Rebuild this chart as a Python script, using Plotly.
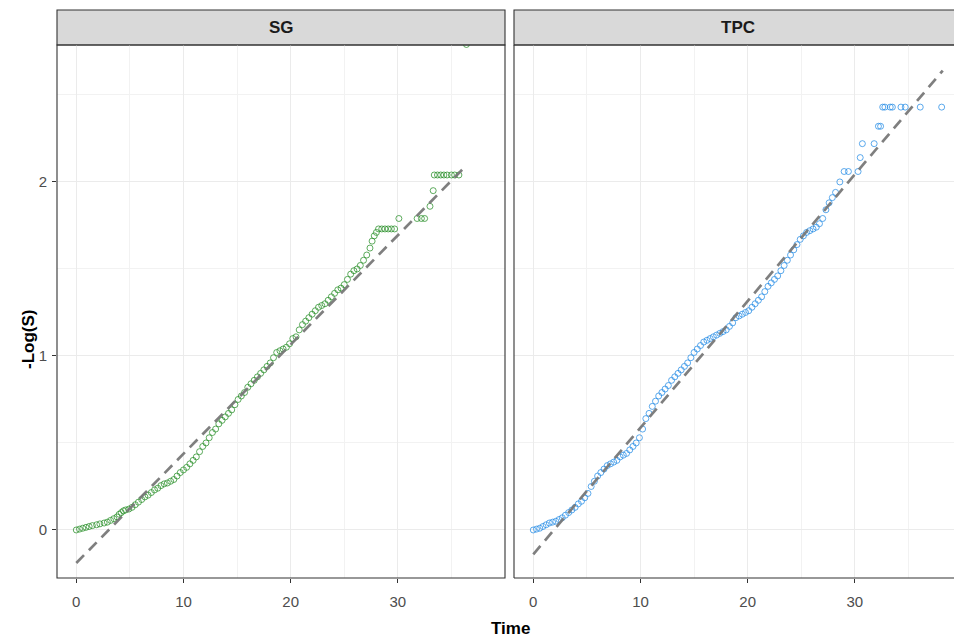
import plotly.graph_objects as go

# ---------------- data ----------------
panels = ["SG", "TPC"]

sg_time = [0.0, 0.3, 0.6, 0.9, 1.2, 1.5, 1.9, 2.2, 2.6, 2.9, 3.2, 3.5, 3.8, 4.0, 4.2, 4.4, 4.6, 4.9,
           5.2, 5.5, 5.8, 6.1, 6.4, 6.7, 7.0, 7.3, 7.6, 7.9, 8.2, 8.5, 8.8, 9.1, 9.4, 9.7, 10.0,
           10.3, 10.6, 10.9, 11.2, 11.5, 11.8, 12.1, 12.4, 12.7, 13.0, 13.3, 13.6, 13.9, 14.2,
           14.5, 14.8, 15.1, 15.4, 15.7, 16.0, 16.3, 16.6, 16.9, 17.2, 17.5, 17.8, 18.1, 18.4,
           18.7, 19.0, 19.3, 19.6, 19.9, 20.2, 20.5, 20.8, 21.1, 21.4, 21.7, 22.0, 22.3, 22.6,
           22.9, 23.2, 23.5, 23.8, 24.1, 24.4, 24.7, 25.0, 25.3, 25.6, 25.9, 26.2, 26.5, 26.8,
           27.1, 27.4, 27.6, 27.8, 28.0, 28.2, 28.5, 28.8, 29.1, 29.4, 29.7, 30.1, 31.8, 32.2,
           32.5, 33.0, 33.3, 33.4, 33.7, 34.0, 34.3, 34.6, 35.0, 35.3, 35.7, 36.4]
sg_logs = [0.000, 0.005, 0.010, 0.015, 0.020, 0.025, 0.030, 0.035, 0.040, 0.045, 0.055, 0.065,
           0.075, 0.090, 0.100, 0.110, 0.115, 0.120, 0.130, 0.145, 0.160, 0.175, 0.190, 0.200,
           0.215, 0.230, 0.240, 0.255, 0.265, 0.270, 0.280, 0.290, 0.310, 0.330, 0.345, 0.360,
           0.380, 0.400, 0.420, 0.450, 0.480, 0.500, 0.530, 0.560, 0.580, 0.610, 0.630, 0.650,
           0.670, 0.690, 0.720, 0.750, 0.770, 0.790, 0.820, 0.840, 0.860, 0.880, 0.900, 0.920,
           0.940, 0.960, 0.990, 1.020, 1.030, 1.040, 1.050, 1.070, 1.100, 1.110, 1.150, 1.180,
           1.200, 1.220, 1.240, 1.260, 1.280, 1.290, 1.300, 1.320, 1.340, 1.360, 1.380, 1.390,
           1.410, 1.440, 1.470, 1.490, 1.500, 1.520, 1.550, 1.580, 1.620, 1.660, 1.690, 1.710,
           1.730, 1.730, 1.730, 1.730, 1.730, 1.730, 1.790, 1.790, 1.790, 1.790, 1.860, 1.950,
           2.040, 2.040, 2.040, 2.040, 2.040, 2.040, 2.040, 2.040, 2.790]

tpc_time = [0.0, 0.3, 0.6, 0.9, 1.2, 1.5, 1.8, 2.1, 2.4, 2.7, 3.0, 3.3, 3.6, 3.9, 4.2, 4.5, 4.8,
            5.1, 5.4, 5.7, 6.0, 6.3, 6.6, 6.9, 7.2, 7.5, 7.8, 8.1, 8.4, 8.7, 9.0, 9.3, 9.6, 9.9,
            10.2, 10.5, 10.8, 11.1, 11.4, 11.7, 12.0, 12.3, 12.6, 12.9, 13.2, 13.5, 13.8, 14.1,
            14.4, 14.7, 15.0, 15.3, 15.6, 15.9, 16.2, 16.5, 16.8, 17.1, 17.4, 17.7, 18.0, 18.3,
            18.6, 18.9, 19.2, 19.5, 19.8, 20.1, 20.4, 20.7, 21.0, 21.3, 21.6, 21.9, 22.2, 22.5,
            22.8, 23.1, 23.4, 23.7, 24.0, 24.3, 24.6, 24.9, 25.2, 25.5, 25.8, 26.1, 26.4, 26.7,
            27.0, 27.3, 27.6, 27.9, 28.2, 28.6, 29.0, 29.4, 30.3, 30.5, 30.7, 31.8, 32.2, 32.4,
            32.6, 32.8, 33.3, 33.5, 34.3, 34.7, 36.1, 38.1]
tpc_logs = [0.000, 0.005, 0.010, 0.020, 0.030, 0.040, 0.045, 0.050, 0.060, 0.070, 0.085, 0.100,
            0.115, 0.130, 0.150, 0.165, 0.185, 0.210, 0.250, 0.280, 0.310, 0.330, 0.350, 0.370,
            0.380, 0.390, 0.400, 0.420, 0.430, 0.440, 0.460, 0.480, 0.500, 0.530, 0.580, 0.640,
            0.670, 0.710, 0.740, 0.770, 0.790, 0.810, 0.830, 0.860, 0.880, 0.900, 0.920, 0.940,
            0.960, 0.990, 1.020, 1.040, 1.060, 1.080, 1.090, 1.100, 1.110, 1.120, 1.130, 1.140,
            1.150, 1.170, 1.190, 1.220, 1.230, 1.240, 1.250, 1.260, 1.280, 1.300, 1.320, 1.340,
            1.370, 1.400, 1.420, 1.440, 1.460, 1.490, 1.520, 1.550, 1.580, 1.610, 1.640, 1.670,
            1.690, 1.710, 1.720, 1.730, 1.740, 1.760, 1.790, 1.840, 1.880, 1.910, 1.940, 2.000,
            2.060, 2.060, 2.060, 2.140, 2.220, 2.220, 2.320, 2.320, 2.430, 2.430, 2.430, 2.430,
            2.430, 2.430, 2.430, 2.430]

# fitted reference lines (end points)
sg_line_time = [0.0, 36.0]
sg_line_logs = [-0.19, 2.07]
tpc_line_time = [0.0, 38.2]
tpc_line_logs = [-0.14, 2.64]

x_ticks = [0, 10, 20, 30]
y_ticks = [0, 1, 2]

# ---------------- figure ----------------
W, H = 954, 644
sg_color = "rgba(34,139,34,0.8)"
tpc_color = "rgba(30,136,229,0.8)"
FONT = "Liberation Sans, Arial"

fig = go.Figure()

def pts(t, y, color, xa, ya):
    return go.Scatter(x=t, y=y, mode="markers", xaxis=xa, yaxis=ya, showlegend=False,
                      marker=dict(symbol="circle-open", size=6, color=color,
                                  line=dict(width=0.9, color=color)))

def ln(t, y, xa, ya):
    return go.Scatter(x=t, y=y, mode="lines", xaxis=xa, yaxis=ya, showlegend=False,
                      line=dict(color="rgba(120,120,120,0.95)", width=2.7, dash="11px,7px"))

fig.add_trace(pts(sg_time, sg_logs, sg_color, "x", "y"))
fig.add_trace(pts(tpc_time, tpc_logs, tpc_color, "x2", "y2"))
fig.add_trace(ln(sg_line_time, sg_line_logs, "x", "y"))
fig.add_trace(ln(tpc_line_time, tpc_line_logs, "x2", "y2"))

p1 = (57 / W, 505 / W)
p2 = (514 / W, 1.0)
ybot = (H - 578) / H
ytop = (H - 45) / H
stop = (H - 10) / H

grid = dict(showgrid=True, gridcolor="#EBEBEB", gridwidth=1.3, zeroline=False,
            ticks="outside", ticklen=4, tickcolor="#333333", tickwidth=1,
            tickfont=dict(family=FONT, size=15, color="#4D4D4D"),
            showline=False)

xcommon = dict(grid, tickmode="array", tickvals=x_ticks, ticklabelstandoff=6,
               minor=dict(tickmode="array", tickvals=[5, 15, 25, 35], showgrid=True,
                          gridcolor="#F2F2F2", gridwidth=0.7, ticks=""))
ycommon = dict(grid, tickmode="array", tickvals=y_ticks, ticklabelstandoff=2,
               minor=dict(tickmode="array", tickvals=[0.5, 1.5, 2.5], showgrid=True,
                          gridcolor="#F2F2F2", gridwidth=0.7, ticks=""))

fig.update_layout(
    width=W, height=H, margin=dict(l=0, r=0, t=0, b=0),
    paper_bgcolor="white", plot_bgcolor="white",
    xaxis=dict(xcommon, domain=list(p1), range=[-1.8, 40.0], anchor="y"),
    xaxis2=dict(xcommon, domain=list(p2), range=[-1.8, 39.25], anchor="y2"),
    yaxis=dict(ycommon, domain=[ybot, ytop], range=[-0.276, 2.787], anchor="x"),
    yaxis2=dict(ycommon, domain=[ybot, ytop], range=[-0.276, 2.787], anchor="x2",
                showticklabels=False, ticks=""),
)

shapes = []
border = dict(color="#333333", width=1.1)
shapes.append(dict(type="rect", xref="paper", yref="paper", x0=p1[0], x1=p1[1], y0=ybot, y1=ytop,
                   line=border, fillcolor="rgba(0,0,0,0)", layer="above"))
shapes.append(dict(type="line", xref="paper", yref="paper", x0=p2[0], x1=p2[0], y0=ybot, y1=ytop,
                   line=border, layer="above"))
shapes.append(dict(type="line", xref="paper", yref="paper", x0=p2[0], x1=1.0, y0=ybot, y1=ybot,
                   line=border, layer="above"))
shapes.append(dict(type="line", xref="paper", yref="paper", x0=p2[0], x1=1.0, y0=ytop, y1=ytop,
                   line=border, layer="above"))
shapes.append(dict(type="rect", xref="paper", yref="paper", x0=p1[0], x1=p1[1], y0=ytop, y1=stop,
                   line=border, fillcolor="#D9D9D9", layer="below"))
shapes.append(dict(type="rect", xref="paper", yref="paper", x0=p2[0], x1=1.2, y0=ytop, y1=stop,
                   line=border, fillcolor="#D9D9D9", layer="below"))
fig.update_layout(shapes=shapes)

ann = []
for name, (a, b) in zip(panels, [p1, (p2[0], p2[0] + (p1[1] - p1[0]))]):
    ann.append(dict(text="<b>%s</b>" % name, xref="paper", yref="paper", x=(a + b) / 2,
                    y=(ytop + stop) / 2, showarrow=False, xanchor="center", yanchor="middle",
                    font=dict(family=FONT, size=17, color="#1A1A1A")))
ann.append(dict(text="<b>Time</b>", xref="paper", yref="paper", x=510 / W, y=(H - 628) / H,
                showarrow=False, xanchor="center", yanchor="middle",
                font=dict(family=FONT, size=17, color="black")))
ann.append(dict(text="<b>-Log(S)</b>", xref="paper", yref="paper", x=28 / W, y=(H - 340) / H,
                showarrow=False, xanchor="center", yanchor="middle", textangle=-90,
                font=dict(family=FONT, size=17, color="black")))
fig.update_layout(annotations=ann)

fig.write_html("out.html", config={"displayModeBar": False},
               post_script="document.body.style.margin='0px';document.body.style.overflow='hidden';")
